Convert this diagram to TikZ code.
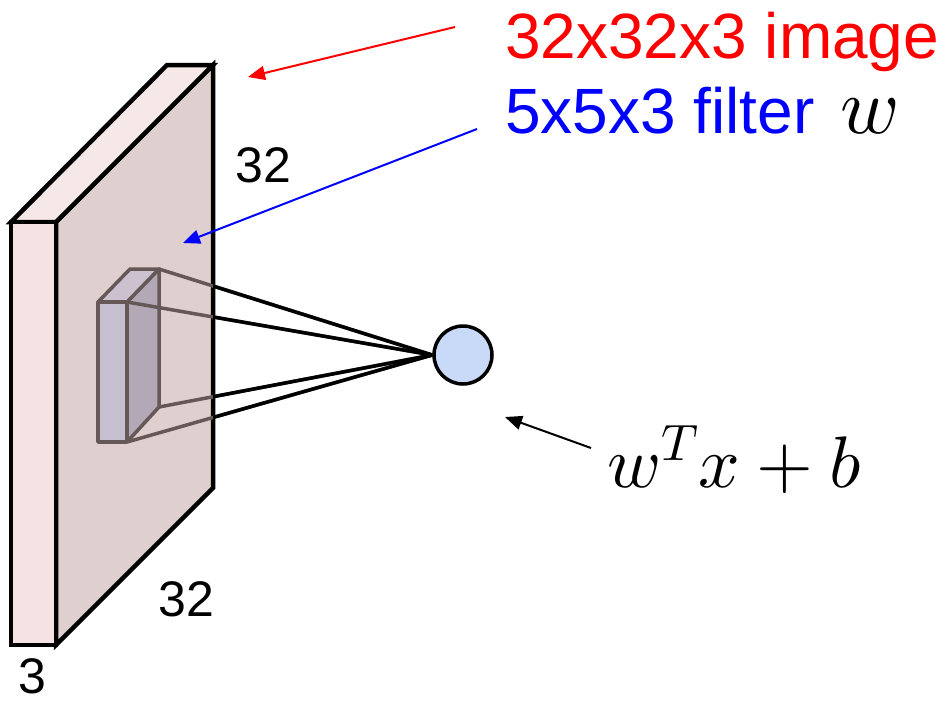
\RequirePackage{fix-cm}
\documentclass[tikz,border=0pt]{standalone}
\usepackage{fontspec}
\setmainfont{Liberation Sans}
\usepackage{xcolor}
\usetikzlibrary{arrows.meta,positioning,calc}
\DeclareFontShape{OML}{cmm}{m}{it}{<-> cmmi10}{}
\DeclareFontShape{OT1}{cmr}{m}{n}{<-> cmr10}{}
\definecolor{SlabFront}{HTML}{F5E3E3}
\definecolor{SlabTop}{HTML}{F7E8E8}
\definecolor{SlabSide}{HTML}{DFCFCF}
\definecolor{KernelFront}{HTML}{C6BFD0}
\definecolor{KernelTop}{HTML}{CBC1CF}
\definecolor{KernelSide}{HTML}{B3A9B6}
\definecolor{KernelEdge}{HTML}{655856}
\definecolor{NeuronFill}{HTML}{C9DAF8}

\begin{document}
\begin{tikzpicture}[
  x=1pt, y=-1pt,
  slab/.style={draw=black, line width=4.5pt, line join=miter},
  kernel/.style={draw=KernelEdge, line width=3.5pt, line join=round},
  ray/.style={line width=3.5pt},
  pointer/.style={-{Triangle[length=17pt,width=14pt]}, line width=2pt},
  dimtext/.style={font=\fontsize{50}{50}\selectfont, anchor=base west, inner sep=0pt},
  bigtext/.style={font=\fontsize{64}{64}\selectfont, anchor=base west, inner sep=0pt}
]
\useasboundingbox (0,0) rectangle (945,702);

% input volume
\draw[slab, fill=SlabSide] (56,222) -- (213,65) -- (213,488) -- (56,645) -- cycle;
\draw[slab, fill=SlabTop] (11,222) -- (167,65) -- (213,65) -- (56,222) -- cycle;
\draw[slab, fill=SlabFront] (11,222) rectangle (56,645);

% filter
\draw[kernel, fill=KernelSide] (127,302) -- (159,269) -- (159,407) -- (127,442) -- cycle;
\draw[kernel, fill=KernelTop] (98,302) -- (130,269) -- (159,269) -- (127,302) -- cycle;
\draw[kernel, fill=KernelFront] (98,302) rectangle (127,442);

\coordinate (k1) at (159,269);
\coordinate (k2) at (127,302);
\coordinate (k3) at (159,407);
\coordinate (k4) at (127,442);

% neuron
\node[circle, draw, line width=3.5pt, fill=NeuronFill, minimum size=58pt, inner sep=0pt] (neuron) at (463,355) {};

\foreach \k in {k1,k2,k3,k4}
  \draw[ray, KernelEdge] (\k) -- (neuron.west);
\begin{scope}
  \clip (213,0) rectangle (945,702);
  \foreach \k in {k1,k2,k3,k4}
    \draw[ray] (\k) -- (neuron.west);
\end{scope}

% labels
\node[bigtext, text=red] (imglabel) at (505,58) {32x32x3 image};
\node[bigtext, text=blue] (filterlabel) at (505,133) {5x5x3 filter\hspace{0.4em}\textcolor{black}{\fontsize{80}{80}\selectfont$w$}};
\node[anchor=base west, inner sep=0pt, font=\fontsize{73}{73}\selectfont] (dotlabel) at (607,487) {$w^Tx+b$};
\node[dimtext] (height) at (235,182) {32};
\node[dimtext] (width) at (158,616) {32};
\node[dimtext] (depth) at (18,693) {3};

% pointers
\coordinate (imgfrom) at (455,27);
\coordinate (imgtip) at (248,77);
\coordinate (filterfrom) at (477,129);
\coordinate (filtertip) at (183,243);
\coordinate (dotfrom) at (591,448);
\coordinate (dottip) at (505,417);
\draw[pointer, red] (imgfrom) -- (imgtip);
\draw[pointer, blue] (filterfrom) -- (filtertip);
\draw[pointer, black] (dotfrom) -- (dottip);
\end{tikzpicture}
\end{document}
